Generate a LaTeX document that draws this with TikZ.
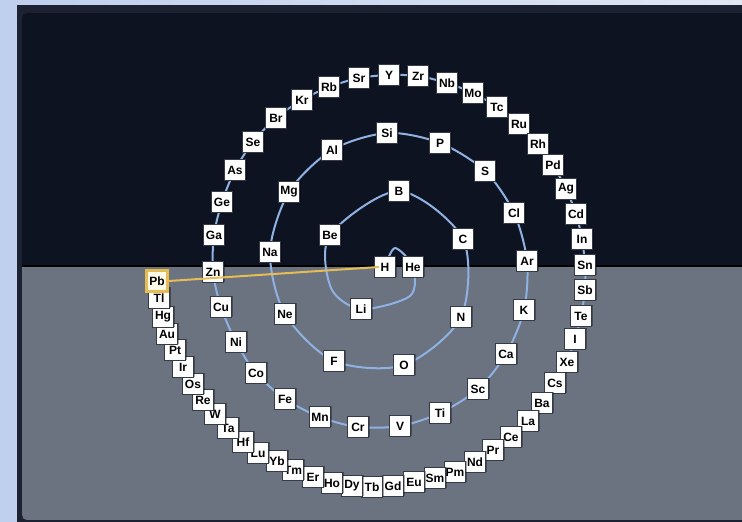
\documentclass[tikz,border=0pt]{standalone}
\usepackage{fontspec}
\setmainfont{Liberation Sans}
\usepackage{tikz}
\usetikzlibrary{backgrounds,shadows}
\definecolor{pageLeft}{HTML}{BFCFEE}
\definecolor{pageRight}{HTML}{E1E7F3}
\definecolor{frameInk}{HTML}{1C2232}
\definecolor{nightTop}{HTML}{0E1322}
\definecolor{slateLow}{HTML}{6B7280}
\definecolor{orbitBlue}{HTML}{8FB2E3}
\definecolor{boxEdge}{HTML}{343A46}
\definecolor{leadGold}{HTML}{E6BD55}
\definecolor{leadFill}{HTML}{FFFAE8}

\begin{document}
\begin{tikzpicture}[x=1pt,y=-1pt,
  elem/.style={draw=boxEdge,fill=white,line width=1.3,minimum width=21,minimum height=21,inner sep=1.5,
    font=\bfseries\fontsize{12}{14}\selectfont,
    drop shadow={shadow xshift=1,shadow yshift=-1,fill=black,opacity=0.35}},
  hot/.style={draw=leadGold,fill=leadFill,line width=2.2},
  spiral/.style={draw=orbitBlue,line width=2},
  link/.style={draw=leadGold,line width=2}
]
  \useasboundingbox (0,0) rectangle (742,522);

  % panel behind everything
  \begin{scope}[on background layer]
    \shade[left color=pageLeft,right color=pageRight] (0,0) rectangle (742,522);
    \fill[frameInk] (17,5) rectangle (760,530);
    \begin{scope}
      \clip[rounded corners=5] (22,13) rectangle (760,520);
      \fill[nightTop] (22,13) rectangle (760,267);
      \fill[slateLow] (22,267) rectangle (760,520);
    \end{scope}
    \draw[line width=2,black] (22,266) -- (760,266);
  \end{scope}

  \foreach \el/\x/\y in {
    H/385/267, He/413/267, Li/361/309, Be/330/235, B/399/191, C/463/239, N/461/317, O/404/365,
    F/334/361, Ne/285/314, Na/270/252, Mg/289/192, Al/332/150, Si/387/133, P/440/143, S/485/171,
    Cl/514/213, Ar/527/261, K/524/310, Ca/506/354, Sc/478/389, Ti/440/413, V/400/426, Cr/358/427,
    Mn/320/417, Fe/285/399, Co/256/373, Ni/236/342, Cu/221/307, Zn/213/272, Ga/214/235, Ge/222/202,
    As/235/170, Se/253/142, Br/276/118, Kr/302/100, Rb/329/87, Sr/359/78, Y/389/75, Zr/418/76,
    Nb/447/83, Mo/473/93, Tc/497/107, Ru/519/124, Rh/538/144, Pd/553/165, Ag/566/189, Cd/576/214,
    In/582/239, Sn/585/265, Sb/585/290, Te/581/316, I/575/339, Xe/567/362, Cs/555/383, Ba/542/403,
    La/528/421, Ce/511/437, Pr/493/450, Nd/475/462, Pm/455/472, Sm/435/478, Eu/414/482, Gd/393/486,
    Tb/372/487, Dy/352/486, Ho/332/483, Er/313/477, Tm/293/470, Yb/277/461, Lu/258/453, Hf/243/442,
    Ta/228/428, W/215/414, Re/203/400, Os/193/384, Ir/183/367, Pt/175/350, Au/167/334, Hg/163/317,
    Tl/159/298}
    \node[elem] (\el) at (\x,\y) {\el};
  \node[elem,hot] (Pb) at (157,281) {Pb};

  \coordinate (loopTop) at (395,248);
  \coordinate (loopLow) at (410,296);
  \coordinate (westLow) at (331,288);

  \begin{scope}[on background layer]
    \draw[spiral] plot[smooth] coordinates {(H.center) (loopTop) (He.center) (loopLow) (Li.center)
      (westLow) (Be.center) (B.center) (C.center) (N.center) (O.center) (F.center)
      (Ne.center) (Na.center) (Mg.center) (Al.center) (Si.center) (P.center) (S.center) (Cl.center)
      (Ar.center) (K.center) (Ca.center) (Sc.center) (Ti.center) (V.center) (Cr.center) (Mn.center)
      (Fe.center) (Co.center) (Ni.center) (Cu.center) (Zn.center) (Ga.center) (Ge.center) (As.center)
      (Se.center) (Br.center) (Kr.center) (Rb.center) (Sr.center) (Y.center) (Zr.center) (Nb.center)
      (Mo.center) (Tc.center) (Ru.center) (Rh.center) (Pd.center) (Ag.center) (Cd.center) (In.center)
      (Sn.center) (Sb.center) (Te.center) (I.center) (Xe.center) (Cs.center) (Ba.center) (La.center)
      (Ce.center) (Pr.center) (Nd.center) (Pm.center) (Sm.center) (Eu.center) (Gd.center) (Tb.center)
      (Dy.center) (Ho.center) (Er.center) (Tm.center) (Yb.center) (Lu.center) (Hf.center) (Ta.center)
      (W.center) (Re.center) (Os.center) (Ir.center) (Pt.center) (Au.center) (Hg.center) (Tl.center)
      (Pb.center)};
  \end{scope}

  \draw[link] (Pb.east) -- ([xshift=5]H.west);
\end{tikzpicture}
\end{document}
